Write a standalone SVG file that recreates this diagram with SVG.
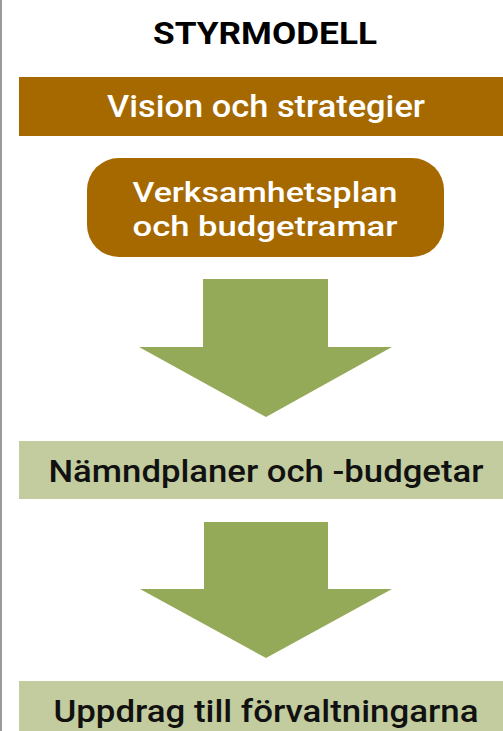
<svg xmlns="http://www.w3.org/2000/svg" width="503" height="731" viewBox="0 0 503 731">
<style>
.t{font-family:Roboto,Inter,"Liberation Sans",sans-serif;text-anchor:middle}
.w{fill:#fff;font-weight:500;font-size:31px}
.k{fill:#111;font-weight:500;font-size:31px}
.s{font-size:28px}
.brown{fill:#A56900}
.green{fill:#C2CC9E}
.arrow{fill:#95AA58}
</style>
<rect width="503" height="731" fill="#fff"/>
<line x1="1" y1="0" x2="1" y2="731" stroke="#9a9a9a" stroke-width="2"/>
<g id="title"><text class="t" x="265" y="44" textLength="224" lengthAdjust="spacingAndGlyphs" style="font-size:31px;font-weight:700;fill:#000">STYRMODELL</text></g>
<g id="vision"><rect class="brown" x="19" y="77" width="484" height="59"/><text class="t w" x="266" y="117" textLength="318" lengthAdjust="spacingAndGlyphs">Vision och strategier</text></g>
<g id="verksamhetsplan"><rect class="brown" x="87" y="158" width="357" height="99" rx="32"/><text class="t w s" x="265" y="202" textLength="265" lengthAdjust="spacingAndGlyphs">Verksamhetsplan</text><text class="t w s" x="265" y="236" textLength="265" lengthAdjust="spacingAndGlyphs">och budgetramar</text></g>
<g id="namndplaner"><rect class="green" x="19" y="441" width="484" height="58"/><text class="t k" x="266" y="482" textLength="435" lengthAdjust="spacingAndGlyphs">Nämndplaner och -budgetar</text></g>
<g id="uppdrag"><rect class="green" x="19" y="681" width="484" height="50"/><text class="t k" x="266" y="722" textLength="425" lengthAdjust="spacingAndGlyphs">Uppdrag till förvaltningarna</text></g>
<g id="connectors">
<polygon class="arrow" points="203,279 328,279 328,347 392,347 266,417 139,347 203,347"/>
<polygon class="arrow" points="204,522 328,522 328,589 392,589 266,658 140,589 204,589"/>
</g>
</svg>
